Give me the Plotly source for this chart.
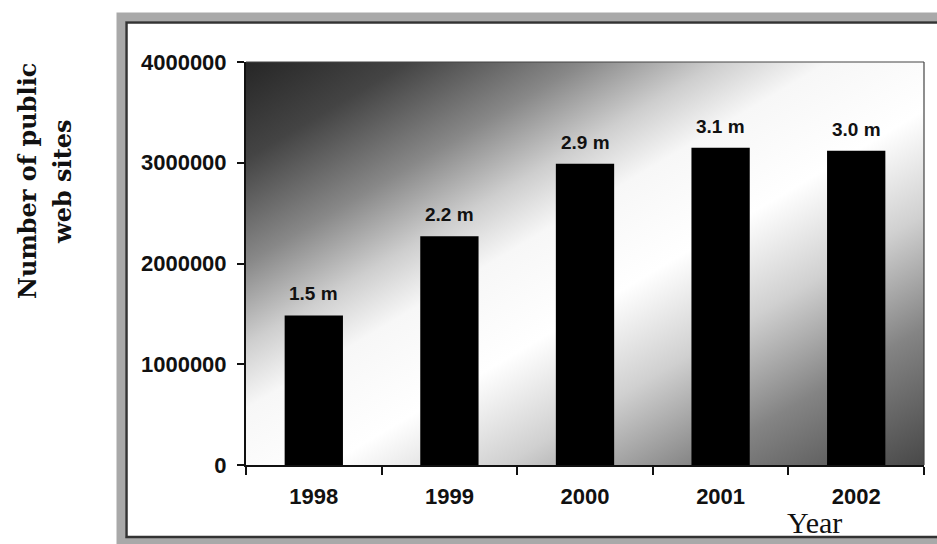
import base64
import plotly.graph_objects as go

# ---- data ----
years = ["1998", "1999", "2000", "2001", "2002"]
sites = [1485000, 2270000, 2990000, 3150000, 3120000]
bar_labels = ["1.5 m", "2.2 m", "2.9 m", "3.1 m", "3.0 m"]
y_ticks = [0, 1000000, 2000000, 3000000, 4000000]
y_tick_text = ["0", "1000000", "2000000", "3000000", "4000000"]

W, H = 937, 544
ML, MR, MT, MB = 246, 13, 62, 79
PW, PH = W - ML - MR, H - MT - MB


def px(xp):
    return (xp - ML) / PW


def py(yp):
    return (H - MB - yp) / PH


# gradient background of plot area (styling only)
svg = (
    '<svg xmlns="http://www.w3.org/2000/svg" width="678" height="403" '
    'viewBox="0 0 100 100" preserveAspectRatio="none">'
    '<defs><linearGradient id="g" x1="0" y1="0" x2="1" y2="1">'
    '<stop offset="0" stop-color="#262626"/>'
    '<stop offset="0.12" stop-color="#444444"/>'
    '<stop offset="0.25" stop-color="#888888"/>'
    '<stop offset="0.35" stop-color="#cecece"/>'
    '<stop offset="0.43" stop-color="#f7f7f7"/>'
    '<stop offset="0.56" stop-color="#ffffff"/>'
    '<stop offset="0.69" stop-color="#d0d0d0"/>'
    '<stop offset="0.83" stop-color="#848484"/>'
    '<stop offset="1" stop-color="#484848"/>'
    '</linearGradient></defs>'
    '<rect x="0" y="0" width="100" height="100" fill="url(#g)"/></svg>'
)
svg_uri = "data:image/svg+xml;base64," + base64.b64encode(svg.encode()).decode()

fig = go.Figure()
fig.add_trace(go.Bar(
    x=years, y=sites, marker=dict(color="#000000", line=dict(width=0)),
    hoverinfo="skip",
))

annotations = []
for i, (v, lab) in enumerate(zip(sites, bar_labels)):
    annotations.append(dict(
        x=i, y=v, xref="x", yref="y", text=lab, showarrow=False,
        yanchor="bottom", yshift=9,
        font=dict(family="Liberation Sans", size=19, color="#111111", weight="bold"),
    ))

annotations += [
    dict(x=px(27), y=py(181), xref="paper", yref="paper", text="<b>Number of public</b>",
         textangle=-90, showarrow=False, xanchor="center", yanchor="middle",
         font=dict(family="DejaVu Serif", size=24, color="#111111")),
    dict(x=px(62), y=py(182), xref="paper", yref="paper", text="<b>web sites</b>",
         textangle=-90, showarrow=False, xanchor="center", yanchor="middle",
         font=dict(family="DejaVu Serif", size=24, color="#111111")),
    dict(x=px(814), y=py(522), xref="paper", yref="paper", text="Year",
         showarrow=False, xanchor="center", yanchor="middle",
         font=dict(family="Liberation Serif", size=30, color="#111111")),
]

shapes = [
    # outer gray frame band
    dict(type="rect", xref="paper", yref="paper",
         x0=px(121), x1=px(990), y0=py(17), y1=py(541),
         line=dict(color="#a9a9a9", width=9), layer="above"),
    # inner dark frame line
    dict(type="rect", xref="paper", yref="paper",
         x0=px(126.5), x1=px(980), y0=py(22.5), y1=py(537),
         line=dict(color="#333333", width=2.5), layer="above"),
    # thin top & right border of plot area
    dict(type="line", xref="paper", yref="paper", x0=0, x1=1, y0=1, y1=1,
         line=dict(color="#444444", width=1.2)),
    dict(type="line", xref="paper", yref="paper", x0=1, x1=1, y0=0, y1=1,
         line=dict(color="#444444", width=1.2)),
]

fig.update_layout(
    width=W, height=H,
    margin=dict(l=ML, r=MR, t=MT, b=MB, pad=0),
    paper_bgcolor="#ffffff", plot_bgcolor="rgba(0,0,0,0)",
    bargap=0.57, showlegend=False,
    annotations=annotations, shapes=shapes,
    images=[dict(source=svg_uri, xref="x domain", yref="y domain", x=0, y=1,
                 sizex=1, sizey=1, xanchor="left", yanchor="top",
                 sizing="stretch", layer="below")],
)
fig.update_xaxes(
    type="category", range=[-0.5, 4.5], tickson="boundaries",
    ticks="outside", ticklen=8, tickwidth=2, tickcolor="#111111",
    showline=True, linecolor="#111111", linewidth=2, showgrid=False,
    tickfont=dict(family="Liberation Sans", size=22, color="#111111", weight="bold"),
    ticklabelstandoff=11, zeroline=False,
)
fig.update_yaxes(
    range=[0, 4000000], tickvals=y_ticks, ticktext=y_tick_text,
    ticks="outside", ticklen=7, tickwidth=2, tickcolor="#111111",
    showline=True, linecolor="#111111", linewidth=2, showgrid=False, zeroline=False,
    tickfont=dict(family="Liberation Sans", size=22, color="#111111", weight="bold"),
    ticklabelstandoff=6,
)

fig.write_html("out.html")
